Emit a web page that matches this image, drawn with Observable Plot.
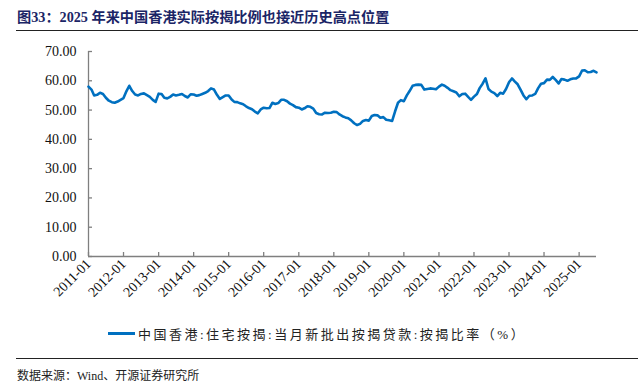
<!DOCTYPE html>
<html>
<head>
<meta charset="utf-8">
<script src="https://cdn.jsdelivr.net/npm/d3@7"></script>
<script src="https://cdn.jsdelivr.net/npm/@observablehq/plot@0.6"></script>
<style>
  html, body { margin: 0; padding: 0; background: #fff; }
  #wrap { position: relative; width: 638px; height: 389px; overflow: hidden; font-family: "Liberation Serif", "Noto Sans CJK SC", serif; }
  #title { position: absolute; left: 17px; top: 6px; font-size: 14.2px; font-weight: bold; color: #1b2566; white-space: nowrap; }
  #topline { position: absolute; left: 16px; right: 0; top: 30px; height: 0; border-top: 1.5px solid #222; }
  #chart { position: absolute; left: 0; top: 36px; }
  #legend { position: absolute; left: 108px; top: 324px; font-size: 13px; color: #222; white-space: nowrap; display: flex; align-items: center; letter-spacing: 2.5px; }
  #legend .sw { display: inline-block; width: 27px; height: 0; border-top: 3px solid #0070c0; margin-right: 3px; }
  #botline { position: absolute; left: 16px; right: 0; top: 358px; height: 0; border-top: 1px solid #222; }
  #source { position: absolute; left: 17px; top: 366px; font-size: 12px; color: #222; white-space: nowrap; }
</style>
</head>
<body>
<div id="wrap">
  <div id="title">图33：2025 年来中国香港实际按揭比例也接近历史高点位置</div>
  <div id="topline"></div>
  <div id="chart"></div>
  <div id="legend"><span class="sw"></span><span id="legtext"></span></div>
  <div id="botline"></div>
  <div id="source">数据来源：Wind、开源证券研究所</div>
</div>
<script>
const seriesName = "中国香港:住宅按揭:当月新批出按揭贷款:按揭比率（%）";
const startYear = 2011;
// monthly values, 2011-01 .. 2025-07
const ratio = [
  58.0, 57.0, 55.0, 55.2, 55.9, 55.5, 54.2, 53.2, 52.7, 52.5, 52.9, 53.5,
  54.1, 56.5, 58.3, 56.5, 55.3, 55.0, 55.5, 55.7, 55.1, 54.5, 53.5, 52.8,
  55.6, 55.5, 54.2, 54.0, 54.5, 55.3, 55.0, 55.2, 55.5, 54.8, 54.3, 55.4,
  55.3, 54.9, 55.1, 55.5, 55.9, 56.5, 57.4, 57.0, 55.2, 53.8, 54.4, 55.0,
  55.0, 53.6, 52.8, 52.7, 52.3, 52.0, 51.3, 50.7, 50.3, 49.5, 48.9, 50.2,
  50.8, 50.6, 50.7, 52.5, 52.1, 52.4, 53.5, 53.5, 53.0, 52.2, 51.7, 51.0,
  50.8, 50.2, 50.6, 51.3, 51.1, 50.5, 49.0, 48.6, 48.5, 49.1, 49.0, 49.1,
  49.4, 49.3, 48.5, 47.9, 47.5, 47.2, 46.5, 45.5, 44.9, 45.3, 46.3, 46.6,
  46.4, 48.0, 48.3, 48.2, 47.4, 47.6, 46.7, 46.5, 46.3, 49.5, 52.5, 53.4,
  53.0, 55.0, 56.5, 58.3, 58.6, 58.7, 58.6, 57.0, 57.2, 57.4, 57.3, 57.1,
  58.0, 58.7, 58.3, 57.6, 56.8, 56.4, 56.0, 54.7, 55.5, 55.6, 54.5, 53.5,
  54.6, 55.5, 57.5, 59.0, 60.8, 57.2, 56.3, 55.8, 54.8, 55.9, 55.6, 57.2,
  59.5, 60.8, 59.8, 58.8, 57.0, 55.0, 53.7, 54.9, 55.0, 55.5, 57.5, 59.0,
  59.2, 60.4, 60.3, 61.3, 60.3, 59.1, 60.6, 60.4, 60.0, 60.5, 60.8, 60.8,
  61.5, 63.5, 63.6, 62.9, 63.0, 63.4, 62.9
];
const yTicks = [0, 10, 20, 30, 40, 50, 60, 70];
const xTickYears = d3.range(2011, 2026);

const data = ratio.map((v, i) => ({date: new Date(Date.UTC(startYear, i, 1)), value: v}));
const xTicks = xTickYears.map(y => new Date(Date.UTC(y, 0, 1)));
const fmtMonth = d3.utcFormat("%Y-%m");

document.getElementById("legtext").textContent = seriesName;

const chart = Plot.plot({
  width: 638,
  height: 278,
  marginLeft: 88,
  marginRight: 42,
  marginTop: 15,
  marginBottom: 58,
  style: {fontFamily: "Liberation Serif, serif", fontSize: "14px", color: "#111", background: "transparent"},
  x: {type: "utc", domain: [data[0].date, data[data.length - 1].date]},
  y: {domain: [0, 70]},
  marks: [
    Plot.axisY({ticks: yTicks, tickFormat: d3.format(".2f"), tickSize: -4, tickPadding: 16, stroke: "#7f7f7f", strokeWidth: 1.3, label: null}),
    Plot.axisX({ticks: xTicks, tickFormat: fmtMonth, tickSize: -4, tickPadding: 9, tickRotate: -45, stroke: "#7f7f7f", strokeWidth: 1.3, label: null}),
    Plot.ruleY([0], {stroke: "#7f7f7f", strokeWidth: 1.3}),
    Plot.ruleX([data[0].date], {y1: 0, y2: 70, stroke: "#7f7f7f", strokeWidth: 1.3}),
    Plot.line(data, {x: "date", y: "value", stroke: "#0070c0", strokeWidth: 2.6, curve: "linear"})
  ]
});
document.getElementById("chart").appendChild(chart);
</script>
</body>
</html>
